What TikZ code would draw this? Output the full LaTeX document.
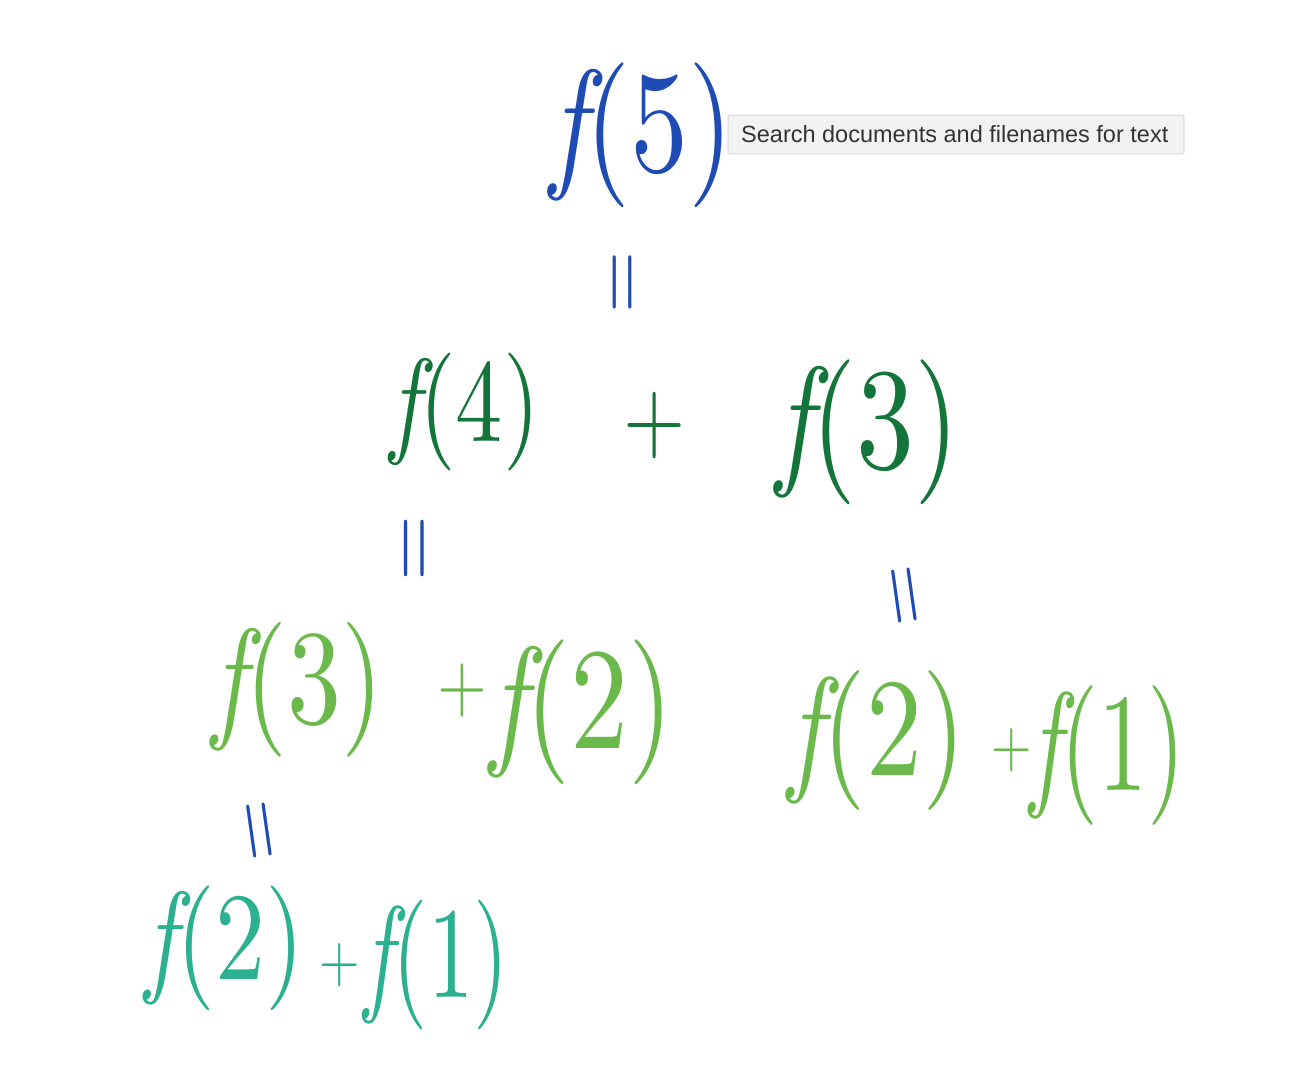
\documentclass[tikz,border=0pt]{standalone}
\usepackage{fontspec}
\newfontfamily\tipfont{Liberation Sans}
\definecolor{hwblue}{HTML}{1E4BB4}
\definecolor{hwdark}{HTML}{13753A}
\definecolor{hwlight}{HTML}{6AB94A}
\definecolor{hwteal}{HTML}{2BB090}
\definecolor{tipfill}{HTML}{F2F2F2}
\definecolor{tipline}{HTML}{CFCFCF}
\definecolor{tiptext}{HTML}{333333}
\newcommand{\fn}[1]{{\itshape f}(#1)}
\tikzset{
  hw/.style={inner sep=0pt, font=\fontsize{10pt}{10pt}\selectfont\addfontfeatures{FakeBold=3}, scale=#1/10, xscale=0.8},
  eqsign/.style={inner sep=0pt, font=\fontsize{10pt}{10pt}\selectfont\addfontfeatures{FakeBold=3}, text=hwblue, scale=#1/10, rotate=90},
  tip/.style={draw=tipline, fill=tipfill, line width=0.8pt, rounded corners=1.5pt,
    minimum width=456pt, minimum height=39pt, inner sep=0pt},
  tiplabel/.style={text=tiptext, inner sep=0pt, anchor=west, font=\tipfont\fontsize{23.5pt}{25pt}\selectfont}
}
\begin{document}
\begin{tikzpicture}[x=1pt,y=-1pt]
\useasboundingbox (0,0) rectangle (1308,1082);
% top
\node[hw=145, text=hwblue] (f5) at (642,135) {\fn{5}};
\node[tip] (tip) at (956,134.5) {};
\node[tiplabel] (tiptext) at (741,134.5) {Search documents and filenames for text};
\node[eqsign=80] (e1) at (628,282) {=};
% second row
\node[hw=118, text=hwdark] (f4) at (465,412) {\fn{4}};
\node[hw=100, text=hwdark] (p1) at (655,425) {+};
\node[hw=145, text=hwdark] (f3a) at (868,432) {\fn{3}};
\node[eqsign=85] (e2) at (420,548) {=};
\node[eqsign=80, rotate=8] (e3) at (910,595) {=};
% third row
\node[hw=135, text=hwlight] (f3b) at (298,690) {\fn{3}};
\node[hw=80, text=hwlight] (p2) at (462,690) {+};
\node[hw=145, text=hwlight] (f2a) at (582,712) {\fn{2}};
\node[hw=140, text=hwlight] (f2b) at (877,740) {\fn{2}};
\node[hw=65, text=hwlight] (p3) at (1012,750) {+};
\node[hw=140, text=hwlight, xscale=0.875] (f1a) at (1108,755) {\fn{1}};
\node[eqsign=80, rotate=8] (e4) at (265,830) {=};
% bottom row
\node[hw=125, text=hwteal] (f2c) at (225,948) {\fn{2}};
\node[hw=65, text=hwteal] (p4) at (340,965) {+};
\node[hw=130, text=hwteal, xscale=0.875] (f1b) at (437,965) {\fn{1}};
\end{tikzpicture}
\end{document}
